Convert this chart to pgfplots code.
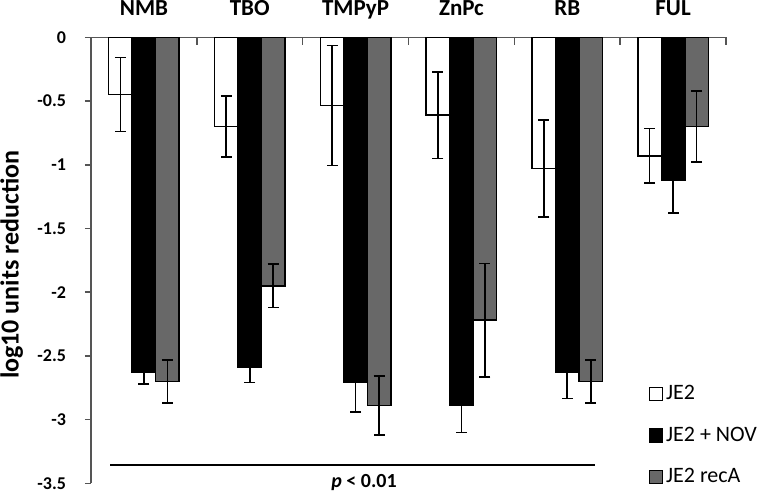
\documentclass[border=0pt]{standalone}
\usepackage{pgfplots}
\usepackage{pgfplotstable}
\pgfplotsset{compat=1.18}
\usepackage{fontspec}
\setmainfont{Carlito}

\definecolor{recagray}{HTML}{686868}
\definecolor{axgray}{HTML}{555555}

% x = category index, y = log10 reduction, err = error bar
\pgfplotstableread{
x y err
0 -0.45 0.29
1 -0.70 0.24
2 -0.535 0.47
3 -0.61 0.34
4 -1.03 0.38
5 -0.93 0.215
}\jetwo
\pgfplotstableread{
x y err
0 -2.63 0.09
1 -2.59 0.12
2 -2.71 0.23
3 -2.89 0.21
4 -2.625 0.21
5 -1.125 0.255
}\jetwonov
\pgfplotstableread{
x y err
0 -2.70 0.17
1 -1.95 0.17
2 -2.89 0.23
3 -2.22 0.445
4 -2.70 0.17
5 -0.70 0.28
}\jetworeca

\begin{document}
\begin{tikzpicture}
\begin{axis}[
    scale only axis,
    width=317.5pt, height=223pt,
    xmin=-0.5, xmax=5.5,
    ymin=-3.5, ymax=0,
    axis x line*=top,
    axis y line*=left,
    axis line style={axgray, line width=0.8pt},
    tick style={axgray, line width=0.8pt},
    tick align=outside,
    major tick length=3pt,
    ybar=0pt,
    bar width=0.222,
    xtick={0,...,5},
    xticklabels={NMB,TBO,TMPyP,ZnPc,RB,FUL},
    major x tick style={draw=none},
    x tick label style={font=\fontsize{11.5}{13}\selectfont\bfseries, anchor=base, yshift=8pt},
    ytick={-3.5,-3,-2.5,-2,-1.5,-1,-0.5,0},
    yticklabels={-3.5,-3,-2.5,-2,-1.5,-1,-0.5,0},
    y tick label style={font=\fontsize{9}{10}\selectfont\bfseries, xshift=-6pt},
    ylabel={log10 units reduction},
    ylabel style={font=\fontsize{13}{15}\selectfont\bfseries,
        at={(axis description cs:-0.125,0.49)}, anchor=center},
    clip=false,
    error bars/y dir=both,
    error bars/y explicit,
    error bars/error bar style={black, line width=0.8pt},
    error bars/error mark options={rotate=90, mark size=2.75pt, line width=0.8pt, black},
    legend image code/.code={\draw[#1, draw=black, line width=0.6pt] (0pt,-3.25pt) rectangle (6.5pt,3.25pt);},
    legend style={at={(axis description cs:0.878,0.107)}, anchor=west,
        draw=none, fill=none, font=\fontsize{11}{12}\selectfont,
        row sep=9pt, inner sep=0pt, nodes={inner sep=1.5pt}},
    legend cell align=left,
]
\addplot[fill=white, draw=black, line width=0.8pt] table[x=x, y=y, y error=err] {\jetwo};
\addlegendentry{JE2}
\addplot[fill=black, draw=black, line width=0.8pt] table[x=x, y=y, y error=err] {\jetwonov};
\addlegendentry{JE2 + NOV}
\addplot[fill=recagray, draw=black, line width=0.8pt] table[x=x, y=y, y error=err] {\jetworeca};
\addlegendentry{JE2 recA}

% category separators hanging from the top axis line
\pgfplotsinvokeforeach{0.5,1.5,2.5,3.5,4.5,5.5}{
  \draw[axgray, line width=0.8pt] (axis cs:#1,0) -- (axis cs:#1,-0.063);
}
% significance line
\draw[black, line width=0.8pt] (axis cs:-0.32,-3.357) -- (axis cs:4.264,-3.357);
\node[font=\fontsize{10}{12}\selectfont\bfseries] at (axis cs:2.08,-3.49) {\textit{p} < 0.01};
\end{axis}
\pgfresetboundingbox
\path (-45.5pt,-5.35pt) rectangle (335pt,241.65pt);
\end{tikzpicture}
\end{document}
